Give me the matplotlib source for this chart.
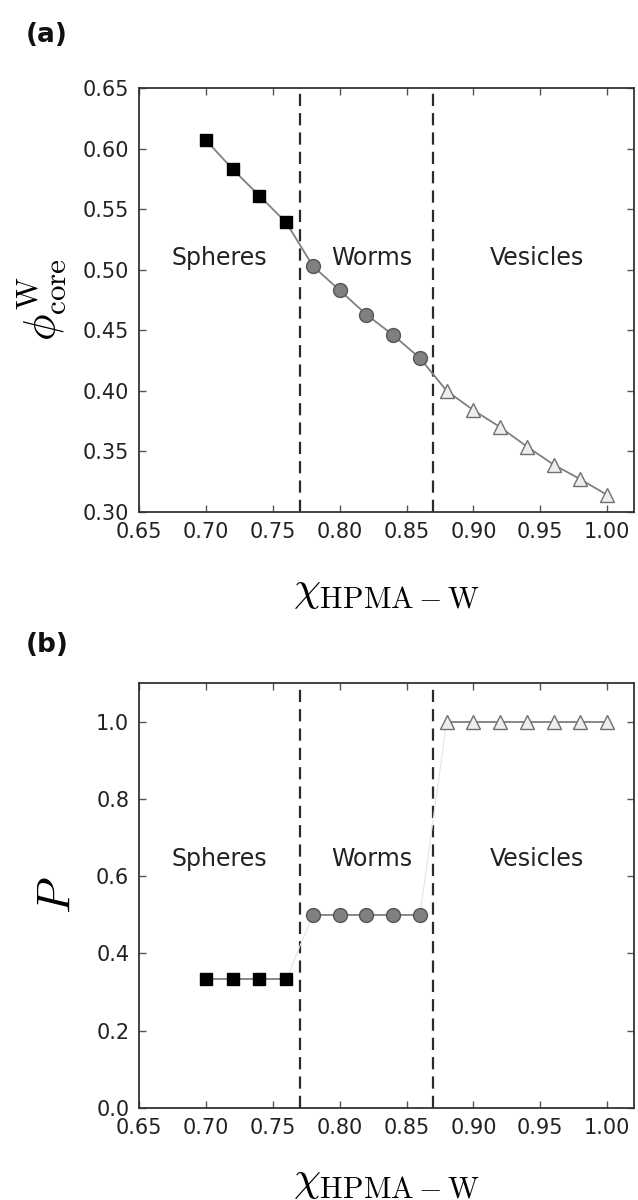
import numpy as np
import matplotlib
matplotlib.use('Agg')
import matplotlib.pyplot as plt

plt.rcParams['mathtext.fontset'] = 'cm'
plt.rcParams['font.family'] = 'DejaVu Sans'

# chi values for each morphology
chi_spheres = [0.70, 0.72, 0.74, 0.76]
chi_worms = [0.78, 0.80, 0.82, 0.84, 0.86]
chi_vesicles = [0.88, 0.90, 0.92, 0.94, 0.96, 0.98, 1.00]

# core volume fraction of water
phi_spheres = [0.607, 0.583, 0.561, 0.539]
phi_worms = [0.503, 0.483, 0.463, 0.446, 0.427]
phi_vesicles = [0.400, 0.384, 0.370, 0.354, 0.339, 0.327, 0.314]

# packing parameter
p_spheres = [1/3, 1/3, 1/3, 1/3]
p_worms = [0.5, 0.5, 0.5, 0.5, 0.5]
p_vesicles = [1.0, 1.0, 1.0, 1.0, 1.0, 1.0, 1.0]

# phase boundaries
boundaries = [0.77, 0.87]
region_names = ['Spheres', 'Worms', 'Vesicles']
region_x = [0.710, 0.824, 0.9475]

xticks = [0.65, 0.70, 0.75, 0.80, 0.85, 0.90, 0.95, 1.00]

fig = plt.figure(figsize=(6.38, 12), dpi=100)
ax_a = fig.add_axes([139/638, 1 - 512/1200, 495/638, 424/1200])
ax_b = fig.add_axes([139/638, 1 - 1108/1200, 495/638, 425/1200])

sq = dict(marker='s', ms=9, mfc='black', mec='black', ls='none')
ci = dict(marker='o', ms=10, mfc='#808080', mec='#555555', mew=1.0, ls='none')
tr = dict(marker='^', ms=10.5, mfc='#eeeeee', mec='#707070', mew=1.0, ls='none')

def style_axes(ax, ylim, yticks, yfmt):
    ax.set_xlim(0.65, 1.02)
    ax.set_ylim(*ylim)
    ax.set_xticks(xticks)
    ax.set_xticklabels([f'{v:.2f}' for v in xticks])
    ax.set_yticks(yticks)
    ax.set_yticklabels([yfmt.format(v) for v in yticks])
    ax.tick_params(direction='in', length=5, width=1, color='#555555',
                   labelsize=15, labelcolor='#222222', pad=7,
                   top=True, right=True)
    for s in ax.spines.values():
        s.set_color('#333333')
        s.set_linewidth(1.3)
    for b in boundaries:
        ax.axvline(b, color='#2a2a2a', lw=1.6, ls=(0, (5.5, 3.2)), zorder=1)
    ax.set_xlabel(r'$\chi_{\mathrm{HPMA-W}}$', fontsize=31)
    ax.xaxis.label.set_va('center')

# (a) core water fraction
chi_all = chi_spheres + chi_worms + chi_vesicles
phi_all = phi_spheres + phi_worms + phi_vesicles
ax_a.plot(chi_all, phi_all, color='#808080', lw=1.3, zorder=2)
ax_a.plot(chi_spheres, phi_spheres, zorder=3, **sq)
ax_a.plot(chi_worms, phi_worms, zorder=3, **ci)
ax_a.plot(chi_vesicles, phi_vesicles, zorder=3, **tr)
style_axes(ax_a, (0.30, 0.65), np.arange(0.30, 0.651, 0.05), '{:.2f}')
for name, x in zip(region_names, region_x):
    ax_a.text(x, 0.510, name, fontsize=17, color='#222222',
              ha='center', va='center')
ax_a.set_ylabel(r'$\phi^{\mathrm{W}}_{\mathrm{core}}$', fontsize=32)
ax_a.yaxis.label.set_va('center')
ax_a.yaxis.set_label_coords(-0.196, 0.5)
ax_a.xaxis.set_label_coords(0.5, -0.183)

# (b) packing parameter
p_all = p_spheres + p_worms + p_vesicles
ax_b.plot(chi_all, p_all, color='#e4e4e4', lw=0.8, zorder=2)
for xs, ys, st in [(chi_spheres, p_spheres, sq), (chi_worms, p_worms, ci),
                   (chi_vesicles, p_vesicles, tr)]:
    ax_b.plot(xs, ys, color='#808080', lw=1.3, zorder=2)
    ax_b.plot(xs, ys, zorder=3, **st)
style_axes(ax_b, (0.0, 1.1), np.arange(0.0, 1.01, 0.2), '{:.1f}')
for name, x in zip(region_names, region_x):
    ax_b.text(x, 0.645, name, fontsize=17, color='#222222',
              ha='center', va='center')
ax_b.set_ylabel(r'$P$', fontsize=34)
ax_b.yaxis.label.set_va('center')
ax_b.yaxis.set_label_coords(-0.166, 0.5)
ax_b.xaxis.set_label_coords(0.5, -0.170)

fig.text(47/638, 1 - 35/1200, '(a)', fontsize=19, fontweight='bold',
         ha='center', va='center', color='#111111')
fig.text(47/638, 1 - 645/1200, '(b)', fontsize=19, fontweight='bold',
         ha='center', va='center', color='#111111')

fig.savefig('out.png', dpi=100, facecolor='white')
